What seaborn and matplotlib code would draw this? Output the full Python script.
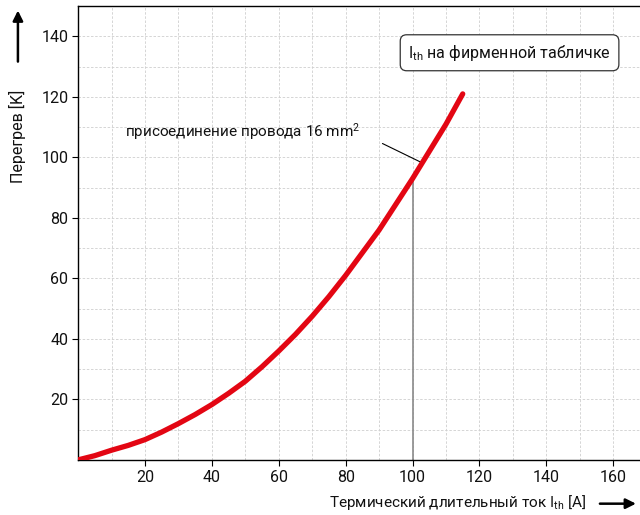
import matplotlib
matplotlib.use("Agg")
import matplotlib.pyplot as plt
import seaborn as sns
import pandas as pd
from matplotlib.ticker import MultipleLocator

current = [0, 5, 10, 15, 20, 25, 30, 35, 40, 45, 50, 55, 60, 65, 70, 75, 80, 85, 90, 95, 100, 105, 110, 115]
temp_rise = [0, 1.4, 3.2, 4.8, 6.7, 9.2, 12, 15, 18.3, 22, 26, 30.8, 36, 41.5, 47.5, 54, 61, 68.5, 76, 84.5, 93, 102, 111, 121]
x_ticks = [20, 40, 60, 80, 100, 120, 140, 160]
y_ticks = [20, 40, 60, 80, 100, 120, 140]
marked_current = 100
marked_rise = 93

sns.set_theme(style="white")
plt.rcParams['font.family'] = ['Roboto', 'DejaVu Sans']
plt.rcParams['mathtext.fontset'] = 'custom'
plt.rcParams['mathtext.rm'] = 'Roboto'
plt.rcParams['mathtext.it'] = 'Roboto'
plt.rcParams['mathtext.default'] = 'regular'

df = pd.DataFrame({"I": current, "dT": temp_rise})

fig = plt.figure(figsize=(6.4, 5.15), dpi=100)
ax = fig.add_axes([0.122, 0.107, 0.878, 0.881])

ax.set_xlim(0, 168)
ax.set_ylim(0, 150)
ax.xaxis.set_minor_locator(MultipleLocator(10))
ax.yaxis.set_minor_locator(MultipleLocator(10))
ax.set_xticks(x_ticks)
ax.set_yticks(y_ticks)
ax.grid(which='both', color='#cfcfcf', linestyle=(0, (3, 2)), linewidth=0.6)
ax.set_axisbelow(True)

for s in ['left', 'bottom', 'top']:
    ax.spines[s].set_color('black')
    ax.spines[s].set_linewidth(1.0)
ax.spines['right'].set_visible(False)
ax.tick_params(axis='both', which='major', direction='out', length=4, width=0.8,
               color='black', labelsize=11.5, labelcolor='#111111', pad=3,
               bottom=True, left=True)
ax.tick_params(which='minor', length=0)

ax.plot([marked_current, marked_current], [0, marked_rise], color='#8a8a8a', lw=1.2, zorder=2)
sns.lineplot(data=df, x="I", y="dT", ax=ax, color='#e30613', linewidth=3.8, zorder=3)
ax.set_xlabel("")
ax.set_ylabel("")

ax.text(84.5, 108.5, "присоединение провода 16 mm$^{2}$", ha='right', va='center',
        fontsize=11, color='#111111')
ax.plot([91, 102.7], [104.6, 98.3], color='black', lw=0.8, zorder=2)

ax.text(129, 134.6, "I$_{th}$ на фирменной табличке", ha='center', va='center', fontsize=11.5,
        color='#111111',
        bbox=dict(boxstyle='round,pad=0.5,rounding_size=0.4', fc='white', ec='#333333', lw=0.9))

# axis labels with arrows
fig.text(0.028, 0.735, "Перегрев [K]", rotation=90, ha='center', va='center', fontsize=11.5, color='#111111')
fig.add_artist(matplotlib.patches.FancyArrowPatch((0.028, 0.875), (0.028, 0.985),
               transform=fig.transFigure, arrowstyle='-|>,head_length=6,head_width=3',
               mutation_scale=1, color='black', lw=1.8))
fig.text(0.916, 0.024, "Термический длительный ток I$_{th}$ [A]", ha='right', va='center',
         fontsize=11, color='#111111')
fig.add_artist(matplotlib.patches.FancyArrowPatch((0.933, 0.022), (0.998, 0.022),
               transform=fig.transFigure, arrowstyle='-|>,head_length=6,head_width=3',
               mutation_scale=1, color='black', lw=1.8))

fig.savefig("out.png", dpi=100)
